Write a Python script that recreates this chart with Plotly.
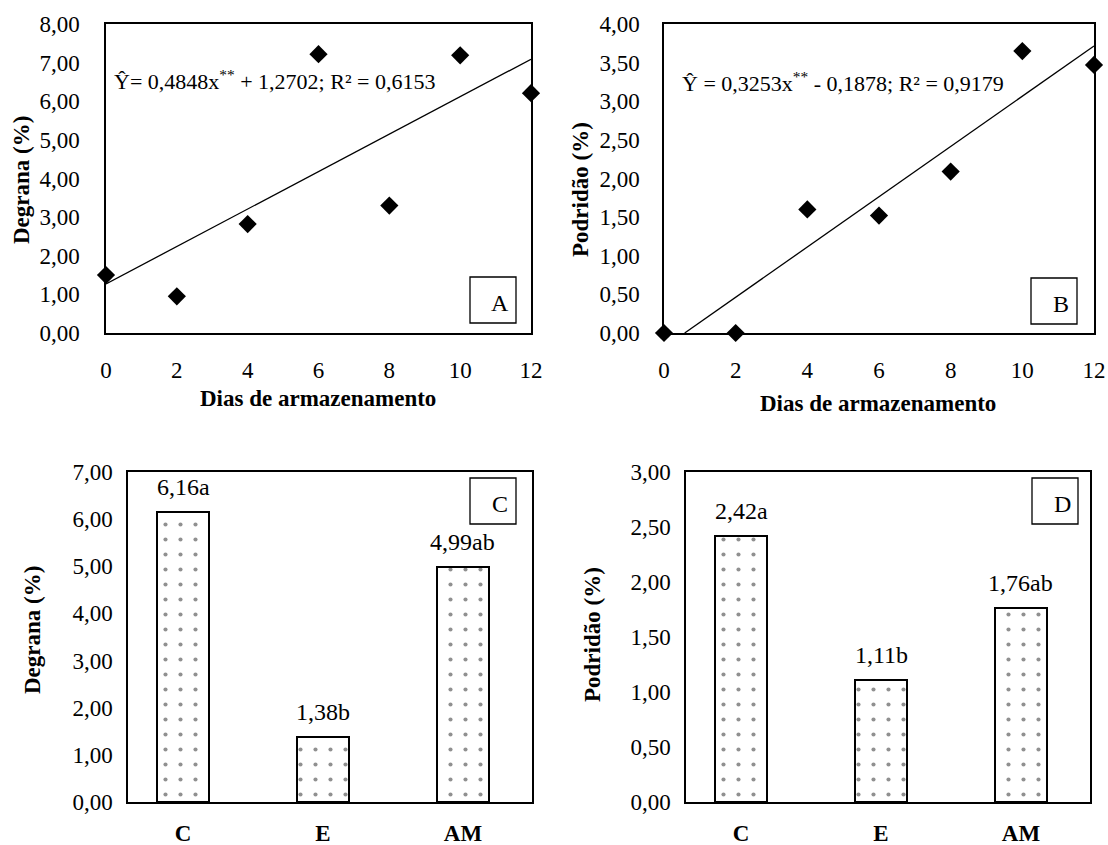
import plotly.graph_objects as go

# ---------------- data ----------------
dias = [0, 2, 4, 6, 8, 10, 12]
degrana_dias = [1.50, 0.95, 2.82, 7.22, 3.30, 7.19, 6.21]
podridao_dias = [0.00, 0.00, 1.60, 1.52, 2.09, 3.65, 3.47]

reg_a = {"slope": 0.4848, "intercept": 1.2702}
reg_b = {"slope": 0.3253, "intercept": -0.1878}
eq_a = "Ŷ= 0,4848x<sup>**</sup> + 1,2702; R² = 0,6153"
eq_b = "Ŷ = 0,3253x<sup>**</sup> - 0,1878; R² = 0,9179"

tratamentos = ["C", "E", "AM"]
degrana_trat = [6.16, 1.38, 4.99]
degrana_lbl = ["6,16a", "1,38b", "4,99ab"]
podridao_trat = [2.42, 1.11, 1.76]
podridao_lbl = ["2,42a", "1,11b", "1,76ab"]

panel_letters = ["A", "B", "C", "D"]

# ---------------- layout helpers ----------------
W, H = 1108, 845
FONT = "Liberation Serif"


def px(x):
    return x / W


def py(y):
    return 1 - y / H


fig = go.Figure()

# Panel A
line_x_a = [dias[0], dias[-1]]
line_y_a = [reg_a["slope"] * v + reg_a["intercept"] for v in line_x_a]
fig.add_trace(go.Scatter(x=line_x_a, y=line_y_a, mode="lines",
                         line=dict(color="black", width=1.3),
                         xaxis="x", yaxis="y", showlegend=False))
fig.add_trace(go.Scatter(x=dias, y=degrana_dias, mode="markers",
                         marker=dict(symbol="diamond", size=14, color="black"),
                         cliponaxis=False, xaxis="x", yaxis="y", showlegend=False))

# Panel B
x0_b = -reg_b["intercept"] / reg_b["slope"]
line_x_b = [x0_b, dias[-1]]
line_y_b = [reg_b["slope"] * v + reg_b["intercept"] for v in line_x_b]
fig.add_trace(go.Scatter(x=line_x_b, y=line_y_b, mode="lines",
                         line=dict(color="black", width=1.3),
                         xaxis="x2", yaxis="y2", showlegend=False))
fig.add_trace(go.Scatter(x=dias, y=podridao_dias, mode="markers",
                         marker=dict(symbol="diamond", size=14, color="black"),
                         cliponaxis=False, xaxis="x2", yaxis="y2", showlegend=False))

bar_marker = dict(color="white",
                  line=dict(color="black", width=2),
                  pattern=dict(shape=".", size=15, solidity=0.06,
                               fgcolor="#222", bgcolor="white"))
pos = list(range(len(tratamentos)))
fig.add_trace(go.Bar(x=pos, y=degrana_trat, width=0.37, marker=bar_marker,
                     xaxis="x3", yaxis="y3", showlegend=False))
fig.add_trace(go.Bar(x=pos, y=podridao_trat, width=0.37, marker=bar_marker,
                     xaxis="x4", yaxis="y4", showlegend=False))

axis_common = dict(showline=True, mirror=True, linecolor="black", linewidth=1.5,
                   showgrid=False, zeroline=False, ticks="outside",
                   tickcolor="rgba(0,0,0,0)", automargin=False,
                   tickfont=dict(family=FONT, size=23, color="black"))

fig.update_layout(
    width=W, height=H,
    margin=dict(l=0, r=0, t=0, b=0, pad=0),
    paper_bgcolor="white", plot_bgcolor="white",
    separators=",.",
    font=dict(family=FONT, color="black"),
    bargap=0,
    xaxis=dict(axis_common, domain=[px(106), px(531)], anchor="y",
               range=[0, 12], tickvals=dias, ticklen=16),
    yaxis=dict(axis_common, domain=[py(333), py(24)], anchor="x",
               range=[0, 8], dtick=1, tickformat=".2f", ticklen=20),
    xaxis2=dict(axis_common, domain=[px(664), px(1094)], anchor="y2",
                range=[0, 12], tickvals=dias, ticklen=16),
    yaxis2=dict(axis_common, domain=[py(333), py(24)], anchor="x2",
                range=[0, 4], dtick=0.5, tickformat=".2f", ticklen=18),
    xaxis3=dict(axis_common, domain=[px(128), px(532)], anchor="y3",
                range=[-0.393, 2.493], tickvals=pos,
                ticktext=["<b>%s</b>" % t for t in tratamentos], ticklen=10),
    yaxis3=dict(axis_common, domain=[py(802), py(472)], anchor="x3",
                range=[0, 7], dtick=1, tickformat=".2f", ticklen=9),
    xaxis4=dict(axis_common, domain=[px(686), px(1090)], anchor="y4",
                range=[-0.393, 2.493], tickvals=pos,
                ticktext=["<b>%s</b>" % t for t in tratamentos], ticklen=10),
    yaxis4=dict(axis_common, domain=[py(802), py(472)], anchor="x4",
                range=[0, 3], dtick=0.5, tickformat=".2f", ticklen=9),
)

ann = []


def note(x, y, text, size=23, xanchor="center", angle=0, xref="paper", yref="paper", **kw):
    d = dict(x=x, y=y, xref=xref, yref=yref, text=text, showarrow=False,
             xanchor=xanchor, yanchor=kw.pop("yanchor", "middle"), textangle=angle,
             font=dict(family=FONT, size=size, color="black"))
    d.update(kw)
    ann.append(d)


# equations
note(px(112), py(80), eq_a, size=22, xanchor="left")
note(px(680), py(82), eq_b, size=22, xanchor="left")
# axis titles
note(px(318), py(398), "<b>Dias de armazenamento</b>")
note(px(878), py(403), "<b>Dias de armazenamento</b>")
note(px(22), py(180), "<b>Degrana (%)</b>", angle=-90)
note(px(580), py(190), "<b>Podridão (%)</b>", angle=-90)
note(px(32), py(630), "<b>Degrana (%)</b>", angle=-90)
note(px(592), py(635), "<b>Podridão (%)</b>", angle=-90)
# bar value labels
for i, (v, t) in enumerate(zip(degrana_trat, degrana_lbl)):
    note(pos[i], v, t, size=24, xref="x3", yref="y3", yanchor="bottom", yshift=10)
for i, (v, t) in enumerate(zip(podridao_trat, podridao_lbl)):
    note(pos[i], v, t, size=24, xref="x4", yref="y4", yanchor="bottom", yshift=10)

# panel letter boxes
boxes = [(470, 277), (1031, 278), (470, 478), (1032, 478)]
shapes = []
for (bx, by), letter in zip(boxes, panel_letters):
    shapes.append(dict(type="rect", xref="paper", yref="paper",
                       x0=px(bx), x1=px(bx + 46), y0=py(by + 46), y1=py(by),
                       line=dict(color="black", width=1.3), fillcolor="white", layer="above"))
    note(px(bx + 30), py(by + 26), letter, size=24)

fig.update_layout(annotations=ann, shapes=shapes)

fig.write_html("out.html", config={"displayModeBar": False},
               post_script="document.body.style.margin='0';document.body.style.overflow='hidden';")
